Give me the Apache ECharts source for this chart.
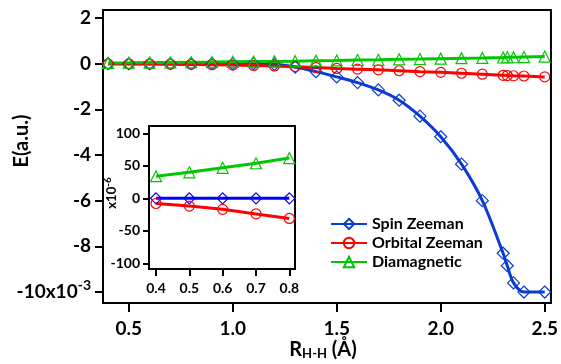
<!DOCTYPE html>
<html>
<head>
<meta charset="utf-8">
<script src="https://cdn.jsdelivr.net/npm/echarts@6/dist/echarts.min.js"></script>
<style>
  html, body { margin: 0; padding: 0; background: #fff; }
  #chart { width: 561px; height: 364px; }
</style>
</head>
<body>
<div id="chart"></div>
<script>
// Bond length R(H-H) in Å, main panel
const rMain = [0.4, 0.5, 0.6, 0.7, 0.8, 0.9, 1.0, 1.1, 1.2, 1.3, 1.4, 1.5, 1.6, 1.7, 1.8, 1.9, 2.0, 2.1, 2.2, 2.3, 2.32, 2.35, 2.4, 2.5];
// Energies in units of 1e-3 a.u.
const spinZeeman = [0, 0, 0, 0, 0, 0, 0, 0, -0.03, -0.15, -0.35, -0.58, -0.83, -1.15, -1.6, -2.3, -3.2, -4.4, -6.0, -8.3, -8.85, -9.6, -10.0, -10.0];
const orbitalZeeman = [-0.008, -0.012, -0.017, -0.024, -0.031, -0.045, -0.06, -0.08, -0.10, -0.13, -0.17, -0.21, -0.24, -0.27, -0.31, -0.35, -0.38, -0.42, -0.46, -0.51, -0.52, -0.53, -0.54, -0.58];
const diamagnetic = [0.034, 0.040, 0.047, 0.054, 0.062, 0.07, 0.08, 0.09, 0.10, 0.11, 0.13, 0.14, 0.16, 0.17, 0.19, 0.20, 0.22, 0.24, 0.25, 0.27, 0.28, 0.28, 0.29, 0.31];

// Inset: short bond lengths, energies in units of 1e-6 a.u.
const rInset = [0.4, 0.5, 0.6, 0.7, 0.8];
const spinInset = [0, 0, 0, 0, 0];
const orbitalInset = [-8, -12, -17, -24, -31];
const diaInset = [34, 40, 47, 54, 62];

// Tick values
const mainXTicks = [0.5, 1.0, 1.5, 2.0, 2.5];
const mainYTicks = [-10, -8, -6, -4, -2, 0, 2];
const insetXTicks = [0.4, 0.5, 0.6, 0.7, 0.8];
const insetYTicks = [-100, -50, 0, 50, 100];

const seriesNames = ['Spin Zeeman', 'Orbital Zeeman', 'Diamagnetic'];

const FONT = 'Lato';
const pair = (xs, ys) => xs.map((x, i) => [x, ys[i]]);

function lineSeries(name, xs, ys, color, symbol, size, axisIdx, smooth) {
  return {
    type: 'line',
    name: name,
    xAxisIndex: axisIdx,
    yAxisIndex: axisIdx,
    data: pair(xs, ys),
    smooth: smooth,
    symbol: symbol,
    symbolSize: size,
    showAllSymbol: true,
    lineStyle: { color: color, width: 3 },
    itemStyle: { color: 'rgba(0,0,0,0)', borderColor: color, borderWidth: 1.2 },
    emphasis: { disabled: true },
    animation: false,
    z: 3
  };
}

const axisLineStyle = { show: true, onZero: false, lineStyle: { color: '#000', width: 2 } };

const option = {
  backgroundColor: '#fff',
  animation: false,
  textStyle: { fontFamily: FONT },
  grid: [
    { left: 103, right: 8, top: 10, bottom: 61, show: true, borderColor: '#000', borderWidth: 2, backgroundColor: '#fff' },
    { left: 149, top: 126, width: 146, height: 143, show: true, borderColor: '#000', borderWidth: 2, backgroundColor: '#fff', z: 5 }
  ],
  legend: {
    orient: 'vertical',
    left: 330,
    top: 216,
    padding: 0,
    itemWidth: 36,
    itemHeight: 13,
    itemGap: 3,
    data: seriesNames,
    selectedMode: false,
    textStyle: { fontFamily: FONT, fontSize: 16, fontWeight: 'bold', color: '#000' },
    z: 10
  },
  xAxis: [
    {
      type: 'value', gridIndex: 0, min: 0.376, max: 2.53,
      axisLine: axisLineStyle,
      axisTick: { show: true, customValues: mainXTicks, length: 9, inside: false, lineStyle: { color: '#000', width: 2 } },
      axisLabel: { customValues: mainXTicks, formatter: v => v.toFixed(1), fontFamily: FONT, fontSize: 19, fontWeight: 'bold', color: '#000', margin: 16 },
      splitLine: { show: false }
    },
    {
      type: 'value', gridIndex: 1, min: 0.379, max: 0.817,
      axisLine: axisLineStyle,
      axisTick: { show: true, customValues: insetXTicks, length: 7, lineStyle: { color: '#000', width: 2 } },
      axisLabel: { customValues: insetXTicks, formatter: v => v.toFixed(1), fontFamily: FONT, fontSize: 14, fontWeight: 'bold', color: '#000', margin: 12 },
      splitLine: { show: false },
      z: 6
    }
  ],
  yAxis: [
    {
      type: 'value', gridIndex: 0, min: -10.48, max: 2.35,
      axisLine: axisLineStyle,
      axisTick: { show: true, customValues: mainYTicks, length: 8, lineStyle: { color: '#000', width: 2 } },
      axisLabel: {
        customValues: mainYTicks, fontFamily: FONT, fontSize: 19, fontWeight: 'bold', color: '#000', margin: 12,
        formatter: v => v === -10 ? '{b|-10x10}{s|-3}' : String(v),
        rich: {
          b: { fontFamily: FONT, fontSize: 19, fontWeight: 'bold', color: '#000' },
          s: { fontFamily: FONT, fontSize: 14, fontWeight: 'bold', color: '#000', padding: [0, 0, 14, 0] }
        }
      },
      splitLine: { show: false }
    },
    {
      type: 'value', gridIndex: 1, min: -108.8, max: 111.3,
      axisLine: axisLineStyle,
      axisTick: { show: true, customValues: insetYTicks, length: 6, lineStyle: { color: '#000', width: 2 } },
      axisLabel: { customValues: insetYTicks, fontFamily: FONT, fontSize: 14, fontWeight: 'bold', color: '#000', margin: 9 },
      splitLine: { show: false },
      z: 6
    }
  ],
  series: [
    lineSeries(seriesNames[0], rMain, spinZeeman, '#0a3cd2', 'diamond', [12, 12], 0, 0.3),
    lineSeries(seriesNames[1], rMain, orbitalZeeman, '#ff0000', 'circle', 10, 0, false),
    lineSeries(seriesNames[2], rMain, diamagnetic, '#00c800', 'triangle', 11, 0, false),
    Object.assign(lineSeries(seriesNames[0], rInset, spinInset, '#0000ff', 'diamond', [11, 11], 1, false), { z: 7 }),
    Object.assign(lineSeries(seriesNames[1], rInset, orbitalInset, '#ff0000', 'circle', 10, 1, false), { z: 7 }),
    Object.assign(lineSeries(seriesNames[2], rInset, diaInset, '#00c800', 'triangle', 11, 1, false), { z: 7 })
  ],
  graphic: [
    {
      type: 'text', x: 22, y: 141, rotation: Math.PI / 2,
      style: { text: 'E(a.u.)', font: 'bold 20px ' + FONT, fill: '#000', align: 'center', verticalAlign: 'middle' }
    },
    {
      type: 'text', x: 323, y: 350,
      style: {
        text: '{r|R}{s|H-H}{r| (Å)}', align: 'center', verticalAlign: 'middle',
        rich: {
          r: { fontFamily: FONT, fontSize: 20, fontWeight: 'bold', fill: '#000', color: '#000' },
          s: { fontFamily: FONT, fontSize: 13, fontWeight: 'bold', fill: '#000', color: '#000', padding: [8, 0, 0, 0] }
        }
      }
    },
    {
      type: 'text', x: 112, y: 193, rotation: Math.PI / 2, z: 10,
      style: {
        text: '{b|x10}{s|-6}', align: 'center', verticalAlign: 'middle',
        rich: {
          b: { fontFamily: FONT, fontSize: 13, fontWeight: 'bold', fill: '#000', color: '#000' },
          s: { fontFamily: FONT, fontSize: 10, fontWeight: 'bold', fill: '#000', color: '#000', padding: [0, 0, 9, 0] }
        }
      }
    }
  ]
};

const chart = echarts.init(document.getElementById('chart'), null, { renderer: 'canvas' });
chart.setOption(option);
</script>
</body>
</html>
